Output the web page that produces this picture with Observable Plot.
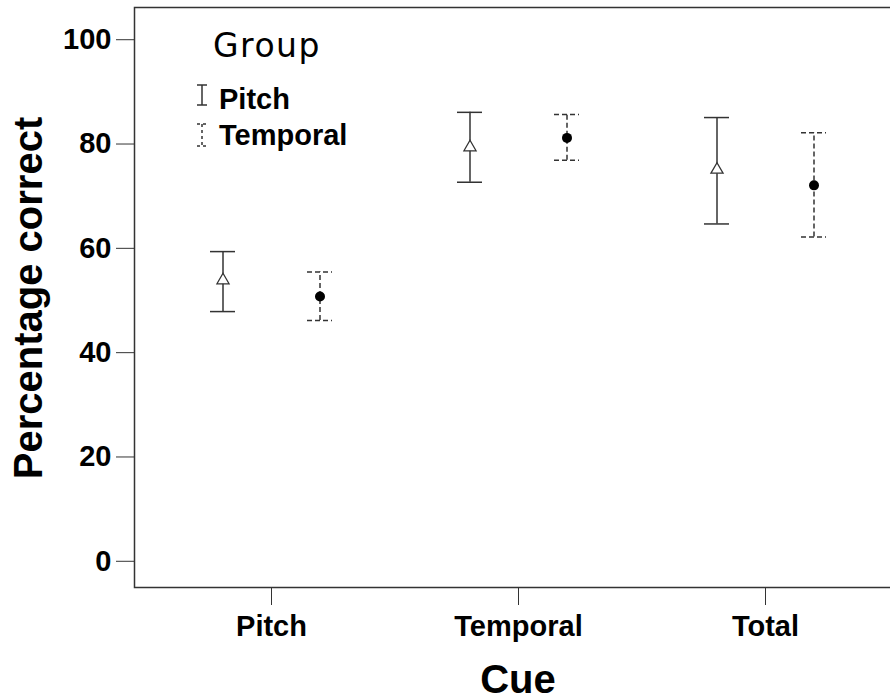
<!DOCTYPE html>
<html><head><meta charset="utf-8">
<script src="https://cdn.jsdelivr.net/npm/d3@7"></script>
<script src="https://cdn.jsdelivr.net/npm/@observablehq/plot@0.6"></script>
<style>
html,body{margin:0;padding:0;background:#fff;overflow:hidden;}
#chart{width:890px;height:700px;overflow:hidden;position:relative;}
#chart svg{max-width:none !important;}
</style></head><body><div id="chart"></div>
<script>
const cues = ["Pitch", "Temporal", "Total"];
const groups = ["Pitch", "Temporal"];
const pitchMean = [53.3, 78.8, 74.5];
const pitchUpper = [58.8, 85.5, 84.5];
const pitchLower = [47.3, 72.1, 64.1];
const temporalMean = [50.2, 80.6, 71.5];
const temporalUpper = [54.9, 85.1, 81.6];
const temporalLower = [45.6, 76.3, 61.6];
const yTicks = [0, 20, 40, 60, 80, 100];
const yTitle = "Percentage correct";
const xTitle = "Cue";
const legendTitle = "Group";

const series = {
  Pitch: {mean: pitchMean, upper: pitchUpper, lower: pitchLower},
  Temporal: {mean: temporalMean, upper: temporalUpper, lower: temporalLower}
};
const rows = [];
cues.forEach((c, i) => {
  for (const g of groups) rows.push({cue: c, group: g, mean: series[g].mean[i], upper: series[g].upper[i], lower: series[g].lower[i]});
});

const ink = "#333";
const off = {Pitch: -48.5, Temporal: 48.5};
const dash = {Pitch: undefined, Temporal: "5,3"};
const marks = [Plot.frame({stroke: ink, strokeWidth: 1.5})];
for (const g of groups) {
  const d = rows.filter(r => r.group === g);
  const dx = off[g];
  marks.push(Plot.ruleX(d, {x: "cue", y1: "lower", y2: "upper", dx, stroke: ink, strokeWidth: 1.5, strokeDasharray: dash[g]}));
  marks.push(Plot.ruleY(d, {y: "upper", x1: "cue", x2: "cue", dx, insetLeft: -12.5, insetRight: -12.5, stroke: ink, strokeWidth: 1.5, strokeDasharray: dash[g]}));
  marks.push(Plot.ruleY(d, {y: "lower", x1: "cue", x2: "cue", dx, insetLeft: -12.5, insetRight: -12.5, stroke: ink, strokeWidth: 1.5, strokeDasharray: dash[g]}));
}
marks.push(Plot.dot(rows.filter(r => r.group === "Pitch"), {x: "cue", y: "mean", dx: off.Pitch, symbol: "triangle", r: 4.5, stroke: ink, fill: "white", strokeWidth: 1.3}));
marks.push(Plot.dot(rows.filter(r => r.group === "Temporal"), {x: "cue", y: "mean", dx: off.Temporal, symbol: "circle", r: 5, fill: "black", stroke: "none"}));
marks.push(Plot.axisY(yTicks, {tickSize: 18, tickPadding: 5, dy: 3, label: null, stroke: ink, fill: "black"}));
marks.push(Plot.axisX({tickSize: 18, tickPadding: 10, label: null, stroke: ink, fill: "black"}));

const svg = Plot.plot({
  width: 892, height: 700,
  marginLeft: 134, marginRight: 0, marginTop: 7, marginBottom: 113,
  x: {type: "point", domain: cues, range: [270.5, 765], padding: 0},
  y: {domain: [-5.6, 105.6]},
  style: {fontFamily: "'Liberation Sans', Arial, sans-serif", fontSize: "29px", fontWeight: "bold", color: "black", background: "white"},
  marks
});
document.getElementById("chart").appendChild(svg);

const s = d3.select(svg);
s.append("text").attr("transform", "translate(42,298) rotate(-90)").attr("text-anchor", "middle")
  .style("font-size", "40px").style("font-weight", "bold").attr("fill", "black").text(yTitle);
s.append("text").attr("x", 518).attr("y", 693).attr("text-anchor", "middle")
  .style("font-size", "40px").style("font-weight", "bold").attr("fill", "black").text(xTitle);

const lg = s.append("g").attr("text-anchor", "start");
lg.append("text").attr("x", 213).attr("y", 57).style("font-family", "'DejaVu Sans', sans-serif")
  .style("font-size", "33px").style("font-weight", "normal").style("letter-spacing", "1.5px").attr("fill", "black").text(legendTitle);
const legendRows = [{y1: 85, y2: 105, base: 109}, {y1: 124, y2: 146, base: 145}];
groups.forEach((g, i) => {
  const r = legendRows[i];
  const gg = lg.append("g").attr("stroke", ink).attr("stroke-width", 1.5).attr("stroke-dasharray", dash[g] ? "3,3" : null);
  gg.append("line").attr("x1", 202).attr("x2", 202).attr("y1", r.y1).attr("y2", r.y2);
  gg.append("line").attr("x1", 197).attr("x2", 207).attr("y1", r.y1).attr("y2", r.y1);
  gg.append("line").attr("x1", 197).attr("x2", 207).attr("y1", r.y2).attr("y2", r.y2);
  lg.append("text").attr("x", 219).attr("y", r.base).style("font-size", "29px").style("font-weight", "bold").attr("fill", "black").text(g);
});
</script></body></html>
